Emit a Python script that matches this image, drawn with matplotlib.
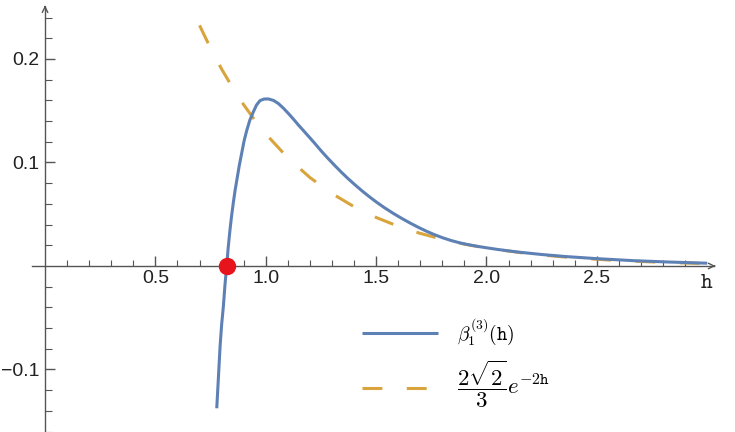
import numpy as np
import matplotlib
matplotlib.use('Agg')
import matplotlib.pyplot as plt

plt.rcParams['font.family'] = ['Liberation Sans', 'DejaVu Sans']
plt.rcParams['mathtext.fontset'] = 'cm'

# values
beta_h = [0.778, 0.786, 0.793, 0.800, 0.808, 0.815, 0.823, 0.830, 0.838, 0.845, 0.853,
          0.861, 0.869, 0.880, 0.891, 0.902, 0.914, 0.928, 0.944, 0.958, 0.974, 0.992,
          1.012, 1.035, 1.057, 1.080, 1.102, 1.125, 1.148, 1.170, 1.193, 1.220, 1.254,
          1.284, 1.314, 1.344, 1.374, 1.405, 1.435, 1.470, 1.503, 1.540, 1.578, 1.616,
          1.654, 1.690, 1.729, 1.765, 1.805, 1.840, 1.880, 1.920, 1.956, 2.000, 2.047,
          2.100, 2.150, 2.250, 2.360, 2.500, 2.670, 2.830, 3.000]
beta_val = [-0.1375, -0.106, -0.078, -0.057, -0.039, -0.019, 0.000, 0.018, 0.035, 0.048,
            0.061, 0.073, 0.083, 0.097, 0.109, 0.121, 0.131, 0.141, 0.149, 0.1555, 0.1598,
            0.1613, 0.1614, 0.1600, 0.1570, 0.1525, 0.1475, 0.1420, 0.1362, 0.1310, 0.1255,
            0.1190, 0.1105, 0.1035, 0.0968, 0.0903, 0.0842, 0.0783, 0.0728, 0.0668, 0.0615,
            0.0560, 0.0508, 0.0460, 0.0415, 0.0375, 0.0335, 0.0302, 0.0270, 0.0246, 0.0223,
            0.0205, 0.0191, 0.0176, 0.0161, 0.0146, 0.0133, 0.0111, 0.0091, 0.0071, 0.0051,
            0.0038, 0.0027]

approx_h = [0.70, 0.75, 0.80, 0.85, 0.90, 0.95, 1.00, 1.10, 1.20, 1.30, 1.40, 1.50, 1.60,
            1.70, 1.80, 1.90, 2.00, 2.20, 2.40, 2.60, 2.80, 3.00]
approx_val = [0.2325, 0.2104, 0.1903, 0.1722, 0.1558, 0.1410, 0.1276, 0.1045, 0.0855,
              0.0700, 0.0573, 0.0469, 0.0384, 0.0315, 0.0258, 0.0211, 0.0173, 0.0116,
              0.0078, 0.0052, 0.0035, 0.0023]

root_h = 0.823
root_val = 0.0

x_major = [0.5, 1.0, 1.5, 2.0, 2.5]
x_major_labels = ['0.5', '1.0', '1.5', '2.0', '2.5']
y_major = [-0.1, 0.1, 0.2]
y_major_labels = ['\u22120.1', '0.1', '0.2']

blue = '#5E81B5'
gold = '#D9A43C'
axis_col = '#555555'

fig = plt.figure(figsize=(7.35, 4.32), dpi=100)
ax = fig.add_axes([0, 0, 1, 1])
ax.set_xlim(-0.204, 3.126)
ax.set_ylim(-0.1604, 0.257)

ax.plot(beta_h, beta_val, color=blue, lw=2.2, solid_capstyle='butt',
        label=r'$\beta_1^{(3)}(\mathtt{h})$', zorder=3)
ax.plot(approx_h, approx_val, color=gold, lw=2.2, dashes=(6.5, 8),
        label=r'$\dfrac{2\sqrt{2}}{3}e^{-\mathbf{2}\mathtt{h}}$', zorder=2)
ax.plot([root_h], [root_val], 'o', color='#E8141B', ms=11.5, zorder=5)

# axes through the origin, Mathematica style
for s in ['top', 'right']:
    ax.spines[s].set_visible(False)
ax.spines['left'].set_position(('data', 0))
ax.spines['bottom'].set_position(('data', 0))
ax.spines['bottom'].set_bounds(-0.059, 3.03)
ax.spines['left'].set_bounds(-0.1604, 0.250)
for s in ['left', 'bottom']:
    ax.spines[s].set_color(axis_col)
    ax.spines[s].set_linewidth(1.0)
ax.annotate('', xy=(3.05, 0), xytext=(3.02, 0),
            arrowprops=dict(arrowstyle='->', color=axis_col, lw=1.0))
ax.annotate('', xy=(0, 0.2545), xytext=(0, 0.247),
            arrowprops=dict(arrowstyle='->', color=axis_col, lw=1.0))

ax.set_xticks(x_major)
ax.set_xticklabels(x_major_labels)
x_minor = [round(0.1 * k, 1) for k in range(1, 31) if k % 5 != 0]
ax.set_xticks(x_minor, minor=True)
ax.set_yticks(y_major)
ax.set_yticklabels(y_major_labels)
y_minor = [round(0.02 * k, 2) for k in range(-8, 13) if k not in (0, -5, 5, 10)]
ax.set_yticks(y_minor, minor=True)

ax.tick_params(axis='both', which='both', direction='in', color=axis_col,
               labelsize=14, labelcolor='#222222')
ax.tick_params(axis='x', which='major', length=7, width=1.0, pad=3)
ax.tick_params(axis='x', which='minor', length=4, width=0.8)
ax.tick_params(axis='y', which='major', length=7, width=1.0, pad=4)
ax.tick_params(axis='y', which='minor', length=5, width=0.8)

ax.text(3.0, -0.006, r'$\mathtt{h}$', fontsize=16, ha='center', va='top', color='#222222')

leg = ax.legend(loc='upper left', bbox_to_anchor=(0.4925, 0.268), frameon=False,
                fontsize=14, handlelength=3.9, handletextpad=1.0, borderpad=0,
                borderaxespad=0, labelspacing=0.6)
leg.get_texts()[1].set_fontsize(16.5)

fig.savefig('out.png', dpi=100)
